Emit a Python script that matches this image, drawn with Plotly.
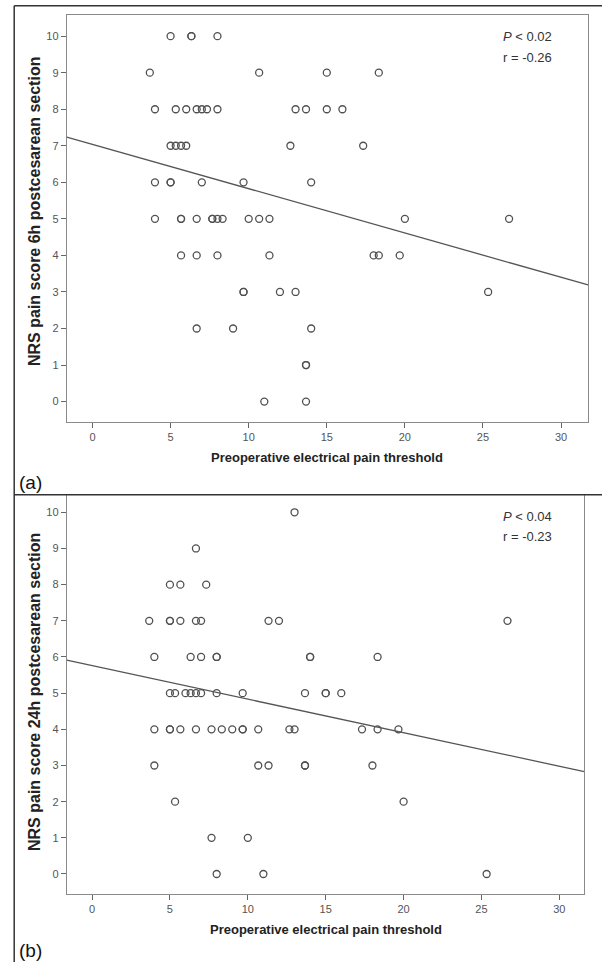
import plotly.graph_objects as go

# ---------------- data: panel (a) 6h ----------------
a_x_10 = [5.0, 6.33, 6.33, 8.0]
a_x_9 = [3.67, 10.67, 15.0, 18.33]
a_x_8 = [4.0, 5.33, 6.0, 6.67, 7.0, 7.33, 8.0, 13.0, 13.67, 15.0, 16.0]
a_x_7 = [5.0, 5.33, 5.67, 6.0, 12.67, 17.33]
a_x_6 = [4.0, 5.0, 5.0, 7.0, 9.67, 14.0]
a_x_5 = [4.0, 5.67, 5.67, 6.67, 7.67, 7.67, 8.0, 8.33, 10.0, 10.67, 11.33, 20.0, 26.67]
a_x_4 = [5.67, 6.67, 8.0, 11.33, 18.0, 18.33, 19.67]
a_x_3 = [9.67, 9.67, 12.0, 13.0, 25.33]
a_x_2 = [6.67, 9.0, 14.0]
a_x_1 = [13.67, 13.67]
a_x_0 = [11.0, 13.67]

# ---------------- data: panel (b) 24h ----------------
b_x_10 = [13.0]
b_x_9 = [6.67]
b_x_8 = [5.0, 5.67, 7.33]
b_x_7 = [3.67, 5.0, 5.0, 5.67, 6.67, 7.0, 11.33, 12.0, 26.67]
b_x_6 = [4.0, 6.33, 7.0, 8.0, 8.0, 14.0, 14.0, 18.33]
b_x_5 = [5.0, 5.33, 6.0, 6.33, 6.67, 7.0, 8.0, 9.67, 13.67, 15.0, 15.0, 16.0]
b_x_4 = [4.0, 5.0, 5.0, 5.67, 6.67, 7.67, 8.33, 9.0, 9.67, 9.67, 10.67, 12.67, 13.0, 17.33, 18.33, 19.67]
b_x_3 = [4.0, 10.67, 11.33, 13.67, 13.67, 18.0]
b_x_2 = [5.33, 20.0]
b_x_1 = [7.67, 10.0]
b_x_0 = [8.0, 11.0, 25.33]

# regression fits (intercept, slope) and stats
fit_a = (7.04, -0.1213)
fit_b = (5.76, -0.0927)
stats_a = ("0.02", "-0.26")
stats_b = ("0.04", "-0.23")

x_title = "Preoperative electrical pain threshold"
y_title_a = "NRS pain score 6h postcesarean section"
y_title_b = "NRS pain score 24h postcesarean section"
x_ticks = [0, 5, 10, 15, 20, 25, 30]
y_ticks = list(range(0, 11))

rows_a = [a_x_0, a_x_1, a_x_2, a_x_3, a_x_4, a_x_5, a_x_6, a_x_7, a_x_8, a_x_9, a_x_10]
rows_b = [b_x_0, b_x_1, b_x_2, b_x_3, b_x_4, b_x_5, b_x_6, b_x_7, b_x_8, b_x_9, b_x_10]


def flatten(rows):
    xs, ys = [], []
    for score, row in enumerate(rows):
        for v in row:
            xs.append(v)
            ys.append(score)
    return xs, ys


W, H = 602, 962


def px(x):
    return x / W


def py(y):
    return 1 - y / H


xr_a = [-1.645, 31.73]
yr_a = [-0.55, 10.57]
xr_b = [-1.62, 31.6]
yr_b = [-0.545, 10.47]

fig = go.Figure()
marker = dict(symbol="circle-open", size=7, color="#505050", line=dict(width=1.3, color="#505050"))
line_style = dict(color="#555555", width=1.3)

xa, ya = flatten(rows_a)
xb, yb = flatten(rows_b)
fig.add_trace(go.Scatter(x=xa, y=ya, mode="markers", marker=marker, xaxis="x", yaxis="y", showlegend=False))
fig.add_trace(go.Scatter(x=xr_a, y=[fit_a[0] + fit_a[1] * v for v in xr_a], mode="lines",
                         line=line_style, xaxis="x", yaxis="y", showlegend=False))
fig.add_trace(go.Scatter(x=xb, y=yb, mode="markers", marker=marker, xaxis="x2", yaxis="y2", showlegend=False))
fig.add_trace(go.Scatter(x=xr_b, y=[fit_b[0] + fit_b[1] * v for v in xr_b], mode="lines",
                         line=line_style, xaxis="x2", yaxis="y2", showlegend=False))

tickfont = dict(family="Liberation Sans Narrow, Arial Narrow, Liberation Sans, Arial", size=11, color="#555555")
ax_common = dict(showline=True, mirror=True, linecolor="#8a8a8a", linewidth=1, ticks="outside", ticklen=5,
                 tickcolor="#666666", tickwidth=1, showgrid=False, zeroline=False, tickfont=tickfont,
                 fixedrange=True)

fig.update_layout(
    width=W, height=H, margin=dict(l=0, r=0, t=0, b=0),
    paper_bgcolor="white", plot_bgcolor="white",
    xaxis=dict(domain=[px(66.8), px(588.1)], range=xr_a, tickvals=x_ticks, anchor="y", **ax_common),
    yaxis=dict(domain=[py(421.7), py(15.3)], range=yr_a, tickvals=y_ticks, anchor="x", **ax_common),
    xaxis2=dict(domain=[px(66.8), px(584.3)], range=xr_b, tickvals=x_ticks, anchor="y2", **ax_common),
    yaxis2=dict(domain=[py(893.7), py(495.3)], range=yr_b, tickvals=y_ticks, anchor="x2", **ax_common),
)

title_font = dict(family="Liberation Sans, Arial", size=13, color="#222222")
ytitle_font = dict(family="Liberation Sans, Arial", size=16, color="#222222")
ann = []
# axis titles
ann.append(dict(text="<b>%s</b>" % x_title, x=(66.8 + 588.1) / 2 / W, y=py(457), xref="paper", yref="paper",
                showarrow=False, font=title_font, xanchor="center", yanchor="middle"))
ann.append(dict(text="<b>%s</b>" % x_title, x=(66.8 + 584.3) / 2 / W, y=py(929), xref="paper", yref="paper",
                showarrow=False, font=title_font, xanchor="center", yanchor="middle"))
ann.append(dict(text="<b>%s</b>" % y_title_a, x=px(34), y=py(212), xref="paper", yref="paper",
                showarrow=False, font=ytitle_font, textangle=-90, xanchor="center", yanchor="middle"))
ann.append(dict(text="<b>%s</b>" % y_title_b, x=px(34), y=py(692), xref="paper", yref="paper",
                showarrow=False, font=ytitle_font, textangle=-90, xanchor="center", yanchor="middle"))
# stats
stat_font = dict(family="Liberation Sans, Arial", size=13, color="#333333")
for (p, r), yp, yr in [(stats_a, 37, 57.5), (stats_b, 516, 536.5)]:
    ann.append(dict(text="<i>P</i> &lt; %s" % p, x=px(554), y=py(yp), xref="paper", yref="paper",
                    showarrow=False, font=stat_font, xanchor="right", yanchor="middle"))
    ann.append(dict(text="r = %s" % r, x=px(554), y=py(yr), xref="paper", yref="paper",
                    showarrow=False, font=stat_font, xanchor="right", yanchor="middle"))
# panel labels
lab_font = dict(family="Liberation Sans, Arial", size=19, color="#111111")
ann.append(dict(text="(a)", x=px(17), y=py(483), xref="paper", yref="paper", showarrow=False,
                font=lab_font, xanchor="left", yanchor="middle"))
ann.append(dict(text="(b)", x=px(17), y=py(950), xref="paper", yref="paper", showarrow=False,
                font=lab_font, xanchor="left", yanchor="middle"))
fig.update_layout(annotations=ann)

# outer frame lines
frame = dict(color="#333333", width=1.5)
fig.add_shape(type="line", xref="paper", yref="paper", x0=px(14.2), x1=1, y0=py(5.7), y1=py(5.7), line=frame)
fig.add_shape(type="line", xref="paper", yref="paper", x0=px(14.2), x1=px(14.2), y0=py(5.7), y1=0, line=frame)
fig.add_shape(type="line", xref="paper", yref="paper", x0=px(14.2), x1=1, y0=py(494.8), y1=py(494.8), line=frame)

fig.write_html("out.html", config={"displayModeBar": False, "staticPlot": True},
               post_script="document.body.style.margin='0';document.body.style.overflow='hidden';")
